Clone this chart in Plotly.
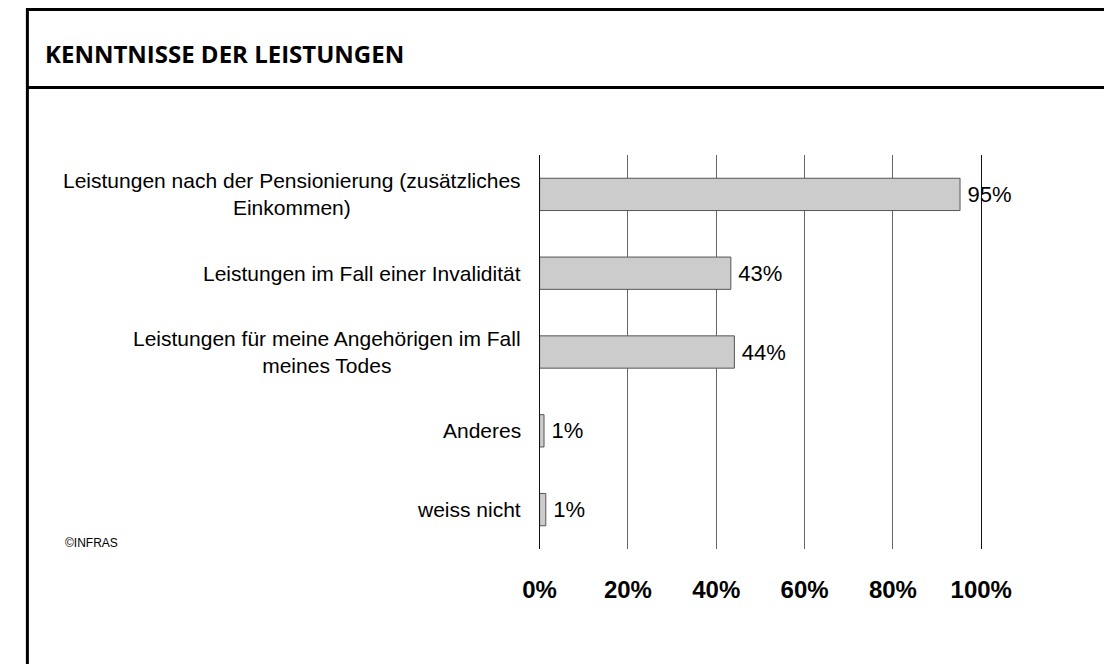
import plotly.graph_objects as go

# page body keeps its default 8px margin, so every reference pixel
# position is shifted by OFF inside the figure
OFF = 8
W, H = 1112 - OFF, 664 - OFF

# ---------- data ----------
categories = [
    "Leistungen nach der Pensionierung (zusätzliches<br>Einkommen)",
    "Leistungen im Fall einer Invalidität",
    "Leistungen für meine Angehörigen im Fall<br>meines Todes",
    "Anderes",
    "weiss nicht",
]
share = [95.2, 43.3, 44.1, 1.0, 1.4]
tick_vals = [0, 20, 40, 60, 80, 100]
tick_text = ["0%", "20%", "40%", "60%", "80%", "100%"]

title_text = "KENNTNISSE DER LEISTUNGEN"
source_text = "©INFRAS"


def px_x(x):
    return (x - OFF) / W


def px_y(y):
    return 1 - (y - OFF) / H


font_main = "Liberation Sans, Arial, sans-serif"

fig = go.Figure()
fig.add_trace(go.Bar(
    y=categories,
    x=share,
    orientation="h",
    width=0.41,
    marker=dict(color="#cccccc", line=dict(color="#555555", width=1)),
    texttemplate="\u2009%{x:.0f}%",
    textposition="outside",
    textfont=dict(family=font_main, size=22, color="#000000"),
    constraintext="none",
    cliponaxis=False,
    hoverinfo="skip",
))

# category labels, lines centred inside a right-aligned block
annotations = []
for cat in categories:
    annotations.append(dict(
        x=px_x(529), xref="paper", xanchor="right",
        y=cat, yref="y", yanchor="middle",
        text=cat, align="center", showarrow=False,
        font=dict(family=font_main, size=21, color="#000000"),
    ))

annotations.append(dict(
    x=px_x(27), xref="paper", xanchor="left",
    y=px_y(54), yref="paper", yanchor="middle",
    text="<b>" + title_text + "</b>", showarrow=False,
    font=dict(family="Open Sans, sans-serif", size=24, color="#000000"),
))
annotations.append(dict(
    x=px_x(48), xref="paper", xanchor="left",
    y=px_y(543), yref="paper", yanchor="middle",
    text=source_text, showarrow=False,
    font=dict(family=font_main, size=12, color="#000000"),
))

# frame around the chart and title separator
shapes = [
    dict(type="line", xref="paper", yref="paper", x0=px_x(10.5), x1=1.05, y0=px_y(9.5), y1=px_y(9.5),
         line=dict(color="#000000", width=3)),
    dict(type="line", xref="paper", yref="paper", x0=px_x(10.5), x1=px_x(10.5), y0=px_y(8), y1=-0.05,
         line=dict(color="#000000", width=3)),
    dict(type="line", xref="paper", yref="paper", x0=px_x(10.5), x1=1.05, y0=px_y(87.5), y1=px_y(87.5),
         line=dict(color="#000000", width=3)),
]

fig.update_layout(
    width=W, height=H,
    margin=dict(l=0, r=0, t=0, b=0),
    paper_bgcolor="#ffffff",
    plot_bgcolor="#ffffff",
    showlegend=False,
    annotations=annotations,
    shapes=shapes,
    xaxis=dict(
        domain=[px_x(546), px_x(1007.7)],
        range=[0, 100],
        tickvals=tick_vals,
        ticktext=tick_text,
        showgrid=True,
        gridcolor="#666666",
        gridwidth=1,
        zeroline=False,
        showline=False,
        ticks="",
        ticklabelstandoff=24,
        tickfont=dict(family=font_main, size=24, color="#000000", weight="bold"),
        fixedrange=True,
    ),
    yaxis=dict(
        domain=[px_y(549), px_y(155)],
        autorange="reversed",
        showticklabels=False,
        showgrid=False,
        zeroline=False,
        showline=True,
        mirror=True,
        linecolor="#111111",
        linewidth=1,
        ticks="",
        fixedrange=True,
    ),
)

fig.write_html("out.html")
